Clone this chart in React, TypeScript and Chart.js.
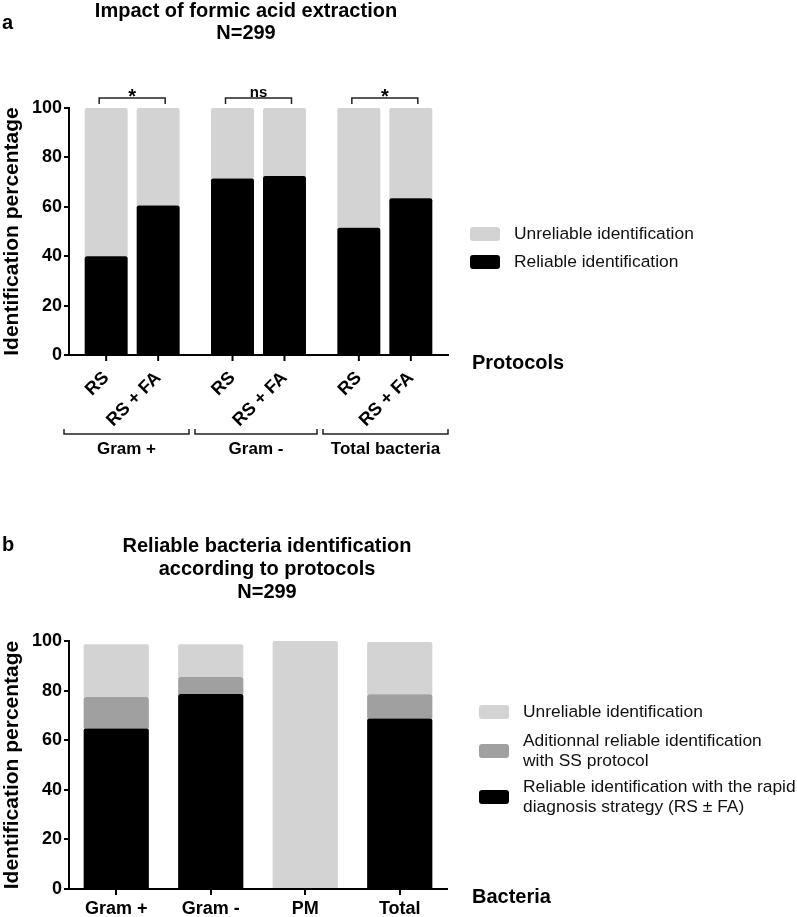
import React, { useEffect, useRef } from "react";
import { Chart, registerables } from "chart.js";

Chart.register(...registerables);

// ---------- Panel a data ----------
const titleA = ["Impact of formic acid extraction", "N=299"];
const groupsA = ["Gram +", "Gram -", "Total bacteria"];
const protocolLabelsA = ["RS", "RS + FA"];
const reliableRS = [40, 71.5, 51.5];
const unreliableRS = [60, 28.5, 48.5];
const reliableRSFA = [60.5, 72.5, 63.5];
const unreliableRSFA = [39.5, 27.5, 36.5];
const significanceA = ["*", "ns", "*"];
const legendLabelsA = ["Unreliable identification", "Reliable identification"];

// ---------- Panel b data ----------
const titleB = ["Reliable bacteria identification", "according to protocols", "N=299"];
const bacteriaB = ["Gram +", "Gram -", "PM", "Total"];
const rapidB = [64.7, 78.6, 0, 68.7];
const ssB = [12.7, 6.9, 0, 9.8];
const unreliableB = [21.3, 13.2, 100, 21.1];
const legendLabelsB = [
  ["Unreliable identification"],
  ["Aditionnal reliable identification", "with SS protocol"],
  ["Reliable identification with the rapid", "diagnosis strategy (RS \u00B1 FA)"],
];

const yAxisTitle = "Identification percentage";

const FONT = "'Liberation Sans', Arial, Helvetica, sans-serif";
const LIGHT = "#d3d3d3";
const MID = "#a0a0a0";
const DARK = "#000000";

function roundBox(ctx: CanvasRenderingContext2D, x: number, y: number, w: number, h: number, r: number, color: string) {
  ctx.beginPath();
  ctx.moveTo(x + r, y);
  ctx.arcTo(x + w, y, x + w, y + h, r);
  ctx.arcTo(x + w, y + h, x, y + h, r);
  ctx.arcTo(x, y + h, x, y, r);
  ctx.arcTo(x, y, x + w, y, r);
  ctx.closePath();
  ctx.fillStyle = color;
  ctx.fill();
}

function yScale() {
  return {
    stacked: true,
    min: 0,
    max: 100,
    ticks: {
      stepSize: 20,
      color: "#000",
      padding: 2,
      font: { family: FONT, size: 18, weight: "bold" },
    },
    grid: {
      display: true,
      drawOnChartArea: false,
      drawTicks: true,
      tickLength: 5,
      color: "#000",
      lineWidth: 2,
    },
    border: { display: true, color: "#000", width: 2 },
    title: {
      display: true,
      text: yAxisTitle,
      color: "#000",
      font: { family: FONT, size: 21, weight: "bold" },
      padding: { top: 0, bottom: 0 },
    },
    afterFit: (s: any) => {
      s.width = 69;
    },
  };
}

const radius = { topLeft: 2, topRight: 2, bottomLeft: 0, bottomRight: 0 };

const annotateA = {
  id: "annotateA",
  afterDraw(chart: any) {
    const { ctx, chartArea: area } = chart;
    const xs = chart.scales.x;
    ctx.save();
    ctx.fillStyle = "#000";
    // panel letter + title
    ctx.font = `bold 20px ${FONT}`;
    ctx.textAlign = "left";
    ctx.textBaseline = "middle";
    ctx.fillText("a", 2, 23);
    ctx.textAlign = "center";
    ctx.fillText(titleA[0], 246, 11);
    ctx.fillText(titleA[1], 246, 33);

    // per-bar tick marks and rotated labels
    const metas = [chart.getDatasetMeta(0), chart.getDatasetMeta(2)];
    groupsA.forEach((_g, i) => {
      metas.forEach((m: any, j: number) => {
        const x = m.data[i].x;
        ctx.strokeStyle = "#000";
        ctx.lineWidth = 2;
        ctx.beginPath();
        ctx.moveTo(x, area.bottom);
        ctx.lineTo(x, area.bottom + 6);
        ctx.stroke();
        ctx.save();
        ctx.translate(x, area.bottom + 20);
        ctx.rotate(-Math.PI / 4);
        ctx.font = `bold 18px ${FONT}`;
        ctx.textAlign = "right";
        ctx.textBaseline = "middle";
        ctx.fillStyle = "#000";
        ctx.fillText(protocolLabelsA[j], 0, 0);
        ctx.restore();
      });

      // significance brackets
      const cx = xs.getPixelForValue(i);
      ctx.strokeStyle = "#222";
      ctx.lineWidth = 1.5;
      ctx.beginPath();
      ctx.moveTo(cx - 33, area.top - 4);
      ctx.lineTo(cx - 33, area.top - 10);
      ctx.lineTo(cx + 33, area.top - 10);
      ctx.lineTo(cx + 33, area.top - 4);
      ctx.stroke();
      ctx.fillStyle = "#000";
      ctx.textAlign = "center";
      ctx.textBaseline = "alphabetic";
      if (significanceA[i] === "*") {
        ctx.font = `bold 20px ${FONT}`;
        ctx.fillText(significanceA[i], cx, area.top - 5);
      } else {
        ctx.font = `bold 15px ${FONT}`;
        ctx.fillText(significanceA[i], cx, area.top - 11);
      }
    });

    // group brackets
    const start = area.left - 5;
    const end = area.right;
    const w = (end - start) / groupsA.length;
    groupsA.forEach((g, i) => {
      const l = start + i * w + (i === 0 ? 0 : 3);
      const r = start + (i + 1) * w - (i === groupsA.length - 1 ? 0 : 3);
      const by = area.bottom + 79;
      ctx.strokeStyle = "#222";
      ctx.lineWidth = 1.5;
      ctx.beginPath();
      ctx.moveTo(l, by - 5);
      ctx.lineTo(l, by);
      ctx.lineTo(r, by);
      ctx.lineTo(r, by - 5);
      ctx.stroke();
      ctx.fillStyle = "#000";
      ctx.font = `bold 17px ${FONT}`;
      ctx.textAlign = "center";
      ctx.textBaseline = "middle";
      ctx.fillText(g, (l + r) / 2, area.bottom + 94);
    });

    // axis caption
    ctx.font = `bold 20px ${FONT}`;
    ctx.textAlign = "left";
    ctx.textBaseline = "middle";
    ctx.fillText("Protocols", 472, 363);

    // legend
    const colorsA = [LIGHT, DARK];
    const ysA = [234, 262];
    legendLabelsA.forEach((t, k) => {
      roundBox(ctx, 470, ysA[k] - 7, 30, 14, 3, colorsA[k]);
      ctx.fillStyle = "#111";
      ctx.font = `17.4px ${FONT}`;
      ctx.textAlign = "left";
      ctx.textBaseline = "middle";
      ctx.fillText(t, 514, ysA[k]);
    });
    ctx.restore();
  },
};

const annotateB = {
  id: "annotateB",
  afterDraw(chart: any) {
    const { ctx } = chart;
    ctx.save();
    ctx.fillStyle = "#000";
    ctx.font = `bold 20px ${FONT}`;
    ctx.textAlign = "left";
    ctx.textBaseline = "middle";
    ctx.fillText("b", 2, 80);
    ctx.textAlign = "center";
    titleB.forEach((t, k) => ctx.fillText(t, 267, 81 + k * 23));

    ctx.textAlign = "left";
    ctx.fillText("Bacteria", 472, 432);

    const colorsB = [LIGHT, MID, DARK];
    const ysB = [247, 286, 332];
    legendLabelsB.forEach((lines, k) => {
      roundBox(ctx, 479, ysB[k] - 7, 30, 14, 3, colorsB[k]);
      ctx.fillStyle = "#111";
      ctx.font = `17.4px ${FONT}`;
      ctx.textAlign = "left";
      ctx.textBaseline = "middle";
      const n = lines.length;
      lines.forEach((ln, li) => {
        ctx.fillText(ln, 523, ysB[k] + (li - (n - 1) / 2) * 20.5);
      });
    });
    ctx.restore();
  },
};

function ChartA() {
  const ref = useRef<HTMLCanvasElement>(null);
  useEffect(() => {
    if (!ref.current) return;
    const chart = new Chart(ref.current, {
      type: "bar",
      data: {
        labels: groupsA,
        datasets: [
          { label: legendLabelsA[1], data: reliableRS, backgroundColor: DARK, stack: "RS", borderRadius: radius, borderSkipped: false },
          { label: legendLabelsA[0], data: unreliableRS, backgroundColor: LIGHT, stack: "RS", borderRadius: radius, borderSkipped: false },
          { label: legendLabelsA[1], data: reliableRSFA, backgroundColor: DARK, stack: "FA", borderRadius: radius, borderSkipped: false },
          { label: legendLabelsA[0], data: unreliableRSFA, backgroundColor: LIGHT, stack: "FA", borderRadius: radius, borderSkipped: false },
        ],
      },
      options: {
        animation: false,
        responsive: true,
        maintainAspectRatio: false,
        datasets: { bar: { categoryPercentage: 0.823, barPercentage: 0.827 } },
        layout: { padding: { top: 108, right: 349, left: 0, bottom: 0 } },
        plugins: { legend: { display: false }, tooltip: { enabled: false }, title: { display: false } },
        scales: {
          x: {
            stacked: true,
            offset: true,
            ticks: { display: false },
            grid: { display: false },
            border: { display: true, color: "#000", width: 2 },
            afterFit: (s: any) => {
              s.height = 110;
            },
          },
          y: yScale(),
        },
      } as any,
      plugins: [annotateA],
    });
    return () => chart.destroy();
  }, []);
  return (
    <div style={{ position: "absolute", left: 0, top: 0, width: 797, height: 465 }}>
      <canvas ref={ref} />
    </div>
  );
}

function ChartB() {
  const ref = useRef<HTMLCanvasElement>(null);
  useEffect(() => {
    if (!ref.current) return;
    const chart = new Chart(ref.current, {
      type: "bar",
      data: {
        labels: bacteriaB,
        datasets: [
          { label: legendLabelsB[2].join(" "), data: rapidB, backgroundColor: DARK, stack: "s", borderRadius: radius, borderSkipped: false },
          { label: legendLabelsB[1].join(" "), data: ssB, backgroundColor: MID, stack: "s", borderRadius: radius, borderSkipped: false },
          { label: legendLabelsB[0].join(" "), data: unreliableB, backgroundColor: LIGHT, stack: "s", borderRadius: radius, borderSkipped: false },
        ],
      },
      options: {
        animation: false,
        responsive: true,
        maintainAspectRatio: false,
        datasets: { bar: { categoryPercentage: 1, barPercentage: 0.69 } },
        layout: { padding: { top: 176, right: 350, left: 0, bottom: 0 } },
        plugins: { legend: { display: false }, tooltip: { enabled: false }, title: { display: false } },
        scales: {
          x: {
            stacked: true,
            offset: true,
            ticks: { color: "#000", padding: 3, maxRotation: 0, font: { family: FONT, size: 18, weight: "bold" } },
            grid: { display: true, drawOnChartArea: false, offset: false, drawTicks: true, tickLength: 6, color: "#000", lineWidth: 2 },
            border: { display: true, color: "#000", width: 2 },
            afterFit: (s: any) => {
              s.height = 28;
            },
          },
          y: yScale(),
        },
      } as any,
      plugins: [annotateB],
    });
    return () => chart.destroy();
  }, []);
  return (
    <div style={{ position: "absolute", left: 0, top: 465, width: 797, height: 452 }}>
      <canvas ref={ref} />
    </div>
  );
}

export default function App() {
  return (
    <div style={{ position: "fixed", left: 0, top: 0, width: 797, height: 917, background: "#fff", overflow: "hidden" }}>
      <ChartA />
      <ChartB />
    </div>
  );
}
